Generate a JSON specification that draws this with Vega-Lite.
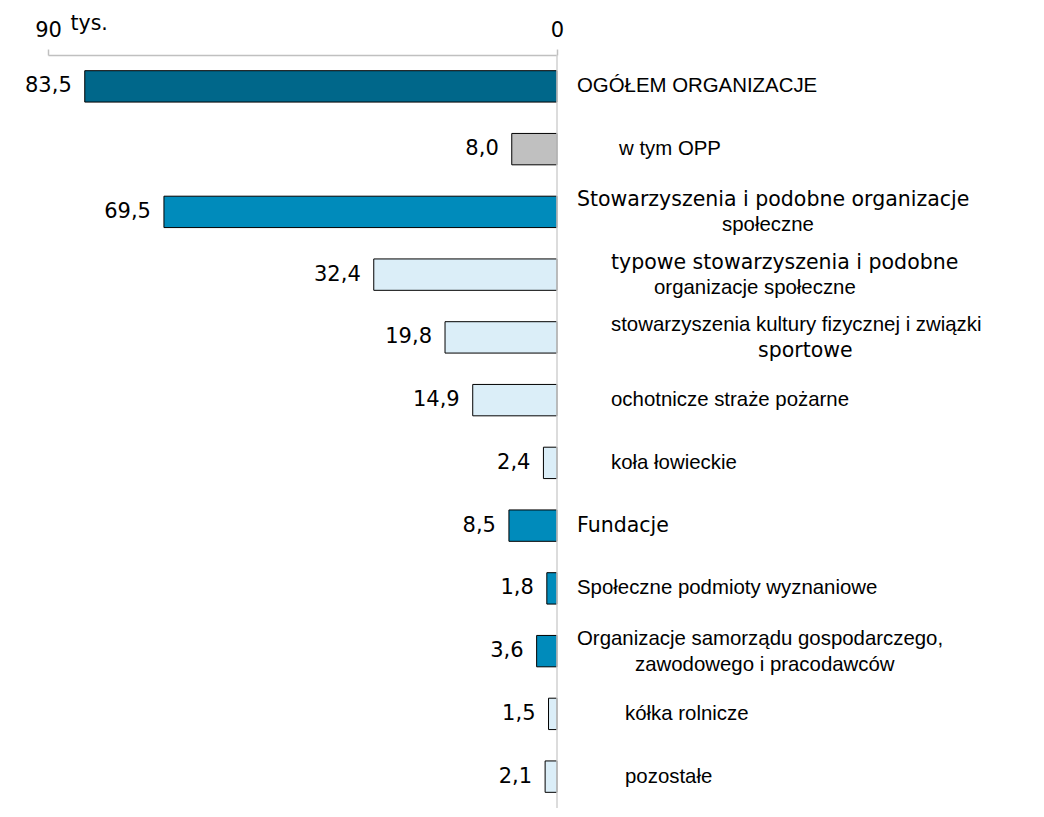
{
  "$schema": "https://vega.github.io/schema/vega-lite/v6.json",
  "autosize": {"type": "none"},
  "padding": {"left": 48, "top": 55, "right": 487, "bottom": 9},
  "width": 509,
  "height": 753,
  "background": "white",
  "config": {
    "view": {"stroke": null},
    "locale": {"number": {"decimal": ",", "thousands": " ", "grouping": [3], "currency": ["", " zł"]}}
  },
  "data": {
    "values": [
      {"kat": "OGÓŁEM ORGANIZACJE", "line1": "OGÓŁEM ORGANIZACJE", "line2": "", "value": 83.5, "typ": "ogółem"},
      {"kat": "w tym OPP", "line1": "w tym OPP", "line2": "", "value": 8.0, "typ": "OPP"},
      {"kat": "Stowarzyszenia i podobne organizacje społeczne", "line1": "Stowarzyszenia i podobne organizacje", "line2": "społeczne", "value": 69.5, "typ": "grupa"},
      {"kat": "typowe stowarzyszenia i podobne organizacje społeczne", "line1": "typowe stowarzyszenia i podobne", "line2": "organizacje społeczne", "value": 32.4, "typ": "podgrupa"},
      {"kat": "stowarzyszenia kultury fizycznej i związki sportowe", "line1": "stowarzyszenia kultury fizycznej i związki", "line2": "sportowe", "value": 19.8, "typ": "podgrupa"},
      {"kat": "ochotnicze straże pożarne", "line1": "ochotnicze straże pożarne", "line2": "", "value": 14.9, "typ": "podgrupa"},
      {"kat": "koła łowieckie", "line1": "koła łowieckie", "line2": "", "value": 2.4, "typ": "podgrupa"},
      {"kat": "Fundacje", "line1": "Fundacje", "line2": "", "value": 8.5, "typ": "grupa"},
      {"kat": "Społeczne podmioty wyznaniowe", "line1": "Społeczne podmioty wyznaniowe", "line2": "", "value": 1.8, "typ": "grupa"},
      {"kat": "Organizacje samorządu gospodarczego, zawodowego i pracodawców", "line1": "Organizacje samorządu gospodarczego,", "line2": "zawodowego i pracodawców", "value": 3.6, "typ": "grupa"},
      {"kat": "kółka rolnicze", "line1": "kółka rolnicze", "line2": "", "value": 1.5, "typ": "podgrupa"},
      {"kat": "pozostałe", "line1": "pozostałe", "line2": "", "value": 2.1, "typ": "podgrupa"}
    ]
  },
  "layer": [
    {
      "mark": {"type": "bar", "stroke": "black", "strokeWidth": 1},
      "encoding": {
        "y": {"field": "kat", "type": "nominal", "sort": null, "axis": null, "scale": {"paddingInner": 0.5, "paddingOuter": 0.25}},
        "x": {
          "field": "value", "type": "quantitative",
          "scale": {"domain": [0, 90], "reverse": true, "nice": false, "zero": true},
          "axis": {
            "orient": "top", "values": [0, 90], "grid": false,
            "domainColor": "#c0c0c0", "domainWidth": 1.5, "tickColor": "#c0c0c0", "tickWidth": 1.5, "tickSize": 6,
            "labelFont": "DejaVu Sans", "labelFontSize": 21, "labelColor": "black", "labelPadding": 9,
            "labelFlush": false, "labelOverlap": false,
            "title": "tys.", "titleFont": "DejaVu Sans", "titleFontSize": 20.5, "titleFontWeight": "normal", "titleColor": "black",
            "titleX": 22, "titleY": -26, "titleAlign": "left", "titleBaseline": "alphabetic", "titleAnchor": null
          }
        },
        "color": {
          "field": "typ", "type": "nominal", "legend": null,
          "scale": {"domain": ["ogółem", "OPP", "grupa", "podgrupa"], "range": ["#00678a", "#c0c0c0", "#008bbb", "#dbeef8"]}
        }
      }
    },
    {
      "data": {"values": [{}]},
      "mark": {"type": "rule", "color": "#d0d0d0", "strokeWidth": 1.5},
      "encoding": {"x": {"datum": 0, "type": "quantitative"}}
    },
    {
      "mark": {"type": "text", "align": "right", "baseline": "middle", "dx": -13, "font": "DejaVu Sans", "fontSize": 21, "color": "black"},
      "encoding": {
        "y": {"field": "kat", "type": "nominal", "sort": null},
        "x": {"field": "value", "type": "quantitative"},
        "text": {"field": "value", "type": "quantitative", "format": ".1f"}
      }
    },
    {
      "transform": [{"filter": {"field": "kat", "oneOf": ["OGÓŁEM ORGANIZACJE", "Społeczne podmioty wyznaniowe"]}}],
      "mark": {"type": "text", "align": "left", "baseline": "middle", "dx": 20, "font": "Liberation Sans", "fontSize": 20.4, "color": "black"},
      "encoding": {"y": {"field": "kat", "type": "nominal", "sort": null}, "x": {"datum": 0, "type": "quantitative"}, "text": {"field": "line1"}}
    },
    {
      "transform": [{"filter": {"field": "kat", "oneOf": ["w tym OPP"]}}],
      "mark": {"type": "text", "align": "left", "baseline": "middle", "dx": 62, "font": "Liberation Sans", "fontSize": 20.4, "color": "black"},
      "encoding": {"y": {"field": "kat", "type": "nominal", "sort": null}, "x": {"datum": 0, "type": "quantitative"}, "text": {"field": "line1"}}
    },
    {
      "transform": [{"filter": {"field": "kat", "oneOf": ["Stowarzyszenia i podobne organizacje społeczne"]}}],
      "mark": {"type": "text", "align": "left", "baseline": "middle", "dx": 20, "dy": -12, "font": "DejaVu Sans", "fontSize": 20.5, "color": "black"},
      "encoding": {"y": {"field": "kat", "type": "nominal", "sort": null}, "x": {"datum": 0, "type": "quantitative"}, "text": {"field": "line1"}}
    },
    {
      "transform": [{"filter": {"field": "kat", "oneOf": ["Stowarzyszenia i podobne organizacje społeczne"]}}],
      "mark": {"type": "text", "align": "left", "baseline": "middle", "dx": 165, "dy": 13.5, "font": "Liberation Sans", "fontSize": 20.4, "color": "black"},
      "encoding": {"y": {"field": "kat", "type": "nominal", "sort": null}, "x": {"datum": 0, "type": "quantitative"}, "text": {"field": "line2"}}
    },
    {
      "transform": [{"filter": {"field": "kat", "oneOf": ["typowe stowarzyszenia i podobne organizacje społeczne"]}}],
      "mark": {"type": "text", "align": "left", "baseline": "middle", "dx": 54, "dy": -12, "font": "DejaVu Sans", "fontSize": 20.5, "color": "black"},
      "encoding": {"y": {"field": "kat", "type": "nominal", "sort": null}, "x": {"datum": 0, "type": "quantitative"}, "text": {"field": "line1"}}
    },
    {
      "transform": [{"filter": {"field": "kat", "oneOf": ["typowe stowarzyszenia i podobne organizacje społeczne"]}}],
      "mark": {"type": "text", "align": "left", "baseline": "middle", "dx": 97, "dy": 13.5, "font": "Liberation Sans", "fontSize": 20.4, "color": "black"},
      "encoding": {"y": {"field": "kat", "type": "nominal", "sort": null}, "x": {"datum": 0, "type": "quantitative"}, "text": {"field": "line2"}}
    },
    {
      "transform": [{"filter": {"field": "kat", "oneOf": ["stowarzyszenia kultury fizycznej i związki sportowe"]}}],
      "mark": {"type": "text", "align": "left", "baseline": "middle", "dx": 54, "dy": -12, "font": "Liberation Sans", "fontSize": 20.4, "color": "black"},
      "encoding": {"y": {"field": "kat", "type": "nominal", "sort": null}, "x": {"datum": 0, "type": "quantitative"}, "text": {"field": "line1"}}
    },
    {
      "transform": [{"filter": {"field": "kat", "oneOf": ["stowarzyszenia kultury fizycznej i związki sportowe"]}}],
      "mark": {"type": "text", "align": "left", "baseline": "middle", "dx": 201, "dy": 13.5, "font": "DejaVu Sans", "fontSize": 20.5, "color": "black"},
      "encoding": {"y": {"field": "kat", "type": "nominal", "sort": null}, "x": {"datum": 0, "type": "quantitative"}, "text": {"field": "line2"}}
    },
    {
      "transform": [{"filter": {"field": "kat", "oneOf": ["ochotnicze straże pożarne", "koła łowieckie"]}}],
      "mark": {"type": "text", "align": "left", "baseline": "middle", "dx": 54, "font": "Liberation Sans", "fontSize": 20.4, "color": "black"},
      "encoding": {"y": {"field": "kat", "type": "nominal", "sort": null}, "x": {"datum": 0, "type": "quantitative"}, "text": {"field": "line1"}}
    },
    {
      "transform": [{"filter": {"field": "kat", "oneOf": ["Fundacje"]}}],
      "mark": {"type": "text", "align": "left", "baseline": "middle", "dx": 20, "font": "DejaVu Sans", "fontSize": 20.5, "color": "black"},
      "encoding": {"y": {"field": "kat", "type": "nominal", "sort": null}, "x": {"datum": 0, "type": "quantitative"}, "text": {"field": "line1"}}
    },
    {
      "transform": [{"filter": {"field": "kat", "oneOf": ["Organizacje samorządu gospodarczego, zawodowego i pracodawców"]}}],
      "mark": {"type": "text", "align": "left", "baseline": "middle", "dx": 20, "dy": -12, "font": "Liberation Sans", "fontSize": 20.4, "color": "black"},
      "encoding": {"y": {"field": "kat", "type": "nominal", "sort": null}, "x": {"datum": 0, "type": "quantitative"}, "text": {"field": "line1"}}
    },
    {
      "transform": [{"filter": {"field": "kat", "oneOf": ["Organizacje samorządu gospodarczego, zawodowego i pracodawców"]}}],
      "mark": {"type": "text", "align": "left", "baseline": "middle", "dx": 78, "dy": 14, "font": "Liberation Sans", "fontSize": 20.4, "color": "black"},
      "encoding": {"y": {"field": "kat", "type": "nominal", "sort": null}, "x": {"datum": 0, "type": "quantitative"}, "text": {"field": "line2"}}
    },
    {
      "transform": [{"filter": {"field": "kat", "oneOf": ["kółka rolnicze", "pozostałe"]}}],
      "mark": {"type": "text", "align": "left", "baseline": "middle", "dx": 68, "font": "Liberation Sans", "fontSize": 20.4, "color": "black"},
      "encoding": {"y": {"field": "kat", "type": "nominal", "sort": null}, "x": {"datum": 0, "type": "quantitative"}, "text": {"field": "line1"}}
    }
  ]
}
